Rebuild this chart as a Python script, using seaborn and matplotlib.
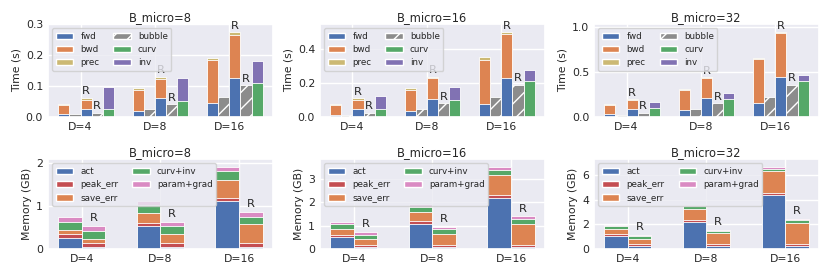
import numpy as np
import pandas as pd
import matplotlib
matplotlib.use('Agg')
import matplotlib.pyplot as plt
import seaborn as sns
from matplotlib.patches import Patch

sns.set_theme(style='darkgrid')
plt.rcParams['font.family'] = ['DejaVu Sans']
plt.rcParams['hatch.linewidth'] = 1.0

# ---------------- data ----------------
D_labels = ['D=4', 'D=8', 'D=16']
B_micro = [8, 16, 32]

# time (s): rows = B_micro 8, 16, 32 ; cols = D=4, 8, 16
fwd = [[0.009, 0.020, 0.044], [0.014, 0.035, 0.077], [0.034, 0.075, 0.149]]
bwd = [[0.028, 0.067, 0.140], [0.055, 0.123, 0.260], [0.096, 0.225, 0.497]]
prec = [[0.006, 0.005, 0.006], [0.008, 0.009, 0.012], [0.008, 0.006, 0.007]]
fwd_r = [[0.026, 0.060, 0.126], [0.047, 0.108, 0.229], [0.093, 0.209, 0.440]]
bwd_r = [[0.029, 0.064, 0.140], [0.053, 0.121, 0.258], [0.097, 0.228, 0.493]]
prec_r = [[0.007, 0.006, 0.008], [0.010, 0.007, 0.010], [0.008, 0.007, 0.007]]
bubble = [[0.008, 0.026, 0.064], [0.014, 0.049, 0.118], [0.026, 0.093, 0.224]]
bubble_r = [[0.013, 0.042, 0.103], [0.024, 0.081, 0.189], [0.048, 0.149, 0.358]]
curv = [[0.026, 0.053, 0.109], [0.049, 0.102, 0.209], [0.097, 0.198, 0.403]]
inv = [[0.072, 0.073, 0.071], [0.073, 0.071, 0.069], [0.071, 0.071, 0.067]]

# memory (GB)
act = [[0.265, 0.538, 1.106], [0.51, 1.08, 2.20], [1.06, 2.20, 4.39]]
peak_err = [[0.075, 0.060, 0.074], [0.11, 0.10, 0.10], [0.18, 0.18, 0.19]]
save_err = [[0.10, 0.235, 0.43], [0.24, 0.42, 0.88], [0.43, 0.87, 1.77]]
curv_inv = [[0.19, 0.19, 0.20], [0.20, 0.21, 0.21], [0.21, 0.22, 0.18]]
param_grad = [[0.105, 0.09, 0.09], [0.10, 0.10, 0.11], [0.10, 0.10, 0.14]]
act_r = [[0.053, 0.053, 0.053], [0.10, 0.10, 0.10], [0.24, 0.24, 0.24]]
peak_err_r = [[0.083, 0.077, 0.077], [0.09, 0.09, 0.09], [0.16, 0.18, 0.18]]
save_err_r = [[0.10, 0.21, 0.44], [0.24, 0.46, 0.90], [0.42, 0.85, 1.72]]
curv_inv_r = [[0.19, 0.19, 0.17], [0.19, 0.19, 0.20], [0.21, 0.18, 0.19]]
param_grad_r = [[0.105, 0.105, 0.115], [0.10, 0.11, 0.11], [0.13, 0.11, 0.13]]

# ---------------- style ----------------
pal = sns.color_palette('deep')
C_BLUE, C_ORANGE, C_GREEN, C_RED, C_PURPLE = pal[0], pal[1], pal[2], pal[3], pal[4]
C_PINK, C_GRAY, C_OLIVE = pal[6], pal[7], pal[8]

TFS = 8.3   # title
KFS = 7.8   # ticks
YFS = 7.8   # y label
LFS = 6.3   # legend
RFS = 8.2   # R marks
EDGE_LW = 0.6
fig = plt.figure(figsize=(8.3, 2.77), dpi=100)
lefts = [0.0578, 0.3855, 0.7157]
W = 0.271
top_axes = [fig.add_axes([l, 0.578, W, 0.336]) for l in lefts]
bot_axes = [fig.add_axes([l, 0.101, W, 0.325]) for l in lefts]

groups = np.arange(len(D_labels))


def stacked(ax, xpos, segments, colors, width, hatch=None):
    cum = np.cumsum(np.array(segments, dtype=float), axis=0)
    for lvl in range(len(segments) - 1, -1, -1):
        df = pd.DataFrame({'x': xpos, 'y': cum[lvl]})
        kw = dict(edgecolor='white', linewidth=EDGE_LW)
        if hatch:
            kw['hatch'] = hatch
        sns.barplot(data=df, x='x', y='y', native_scale=True, width=width,
                    color=colors[lvl], saturation=1, errorbar=None, ax=ax, **kw)
    return cum[-1]


def r_labels(ax, xpos, tops, dy):
    for x, t in zip(xpos, tops):
        ax.annotate('R', (x, t), xytext=(0, dy), textcoords='offset points',
                    ha='center', va='bottom', fontsize=RFS)


def finish(ax, ylabel, title):
    ax.set_xticks(groups)
    ax.set_xticklabels(D_labels)
    ax.set_xlabel('')
    ax.set_ylabel(ylabel, fontsize=YFS, labelpad=3)
    ax.set_title(title, fontsize=TFS, pad=2)
    ax.tick_params(axis='both', which='both', length=0, pad=3.5, labelsize=KFS)


# ---------------- time panels ----------------
bw = 0.15
offs = np.array([-1.5, -0.5, 0.5, 1.5, 2.5]) * bw
for i, ax in enumerate(top_axes):
    t1 = stacked(ax, groups + offs[0], [fwd[i], bwd[i], prec[i]],
                 [C_BLUE, C_ORANGE, C_OLIVE], bw)
    t2 = stacked(ax, groups + offs[1], [bubble[i]], [C_GRAY], bw, hatch='//')
    t3 = stacked(ax, groups + offs[2], [fwd_r[i], bwd_r[i], prec_r[i]],
                 [C_BLUE, C_ORANGE, C_OLIVE], bw)
    t4 = stacked(ax, groups + offs[3], [bubble_r[i]], [C_GRAY], bw, hatch='//')
    t5 = stacked(ax, groups + offs[4], [curv[i], inv[i]], [C_GREEN, C_PURPLE], bw)
    r_labels(ax, groups + offs[2], t3, 1.0)
    r_labels(ax, groups + offs[3], t4, 1.0)
    ymax = max(t1.max(), t2.max(), t3.max(), t4.max(), t5.max())
    ax.set_ylim(0, ymax * 1.1)
    finish(ax, 'Time (s)', f'B_micro={B_micro[i]}')
    ax.yaxis.set_major_formatter(matplotlib.ticker.FormatStrFormatter('%.1f'))
    handles = [
        Patch(facecolor=C_BLUE, edgecolor='white', label='fwd'),
        Patch(facecolor=C_ORANGE, edgecolor='white', label='bwd'),
        Patch(facecolor=C_OLIVE, edgecolor='white', label='prec'),
        Patch(facecolor=C_GRAY, edgecolor='white', hatch='//', label='bubble'),
        Patch(facecolor=C_GREEN, edgecolor='white', label='curv'),
        Patch(facecolor=C_PURPLE, edgecolor='white', label='inv'),
    ]
    ax.legend(handles=handles, ncol=2, loc='upper left', fontsize=LFS,
              columnspacing=1.6)

# ---------------- memory panels ----------------
mw = 0.3
moffs = np.array([-0.5, 0.5]) * mw
mcolors = [C_BLUE, C_RED, C_ORANGE, C_GREEN, C_PINK]
for i, ax in enumerate(bot_axes):
    m1 = stacked(ax, groups + moffs[0],
                 [act[i], peak_err[i], save_err[i], curv_inv[i], param_grad[i]],
                 mcolors, mw)
    m2 = stacked(ax, groups + moffs[1],
                 [act_r[i], peak_err_r[i], save_err_r[i], curv_inv_r[i], param_grad_r[i]],
                 mcolors, mw)
    r_labels(ax, groups + moffs[1], m2, 2.0)
    ax.set_ylim(0, max(m1.max(), m2.max()) * 1.1)
    finish(ax, 'Memory (GB)', f'B_micro={B_micro[i]}')
    handles = [Patch(facecolor=c, edgecolor='white', label=l) for c, l in
               zip(mcolors, ['act', 'peak_err', 'save_err', 'curv+inv', 'param+grad'])]
    ax.legend(handles=handles, ncol=2, loc='upper left', fontsize=LFS,
              columnspacing=1.6)

fig.savefig('out.png', dpi=100)
